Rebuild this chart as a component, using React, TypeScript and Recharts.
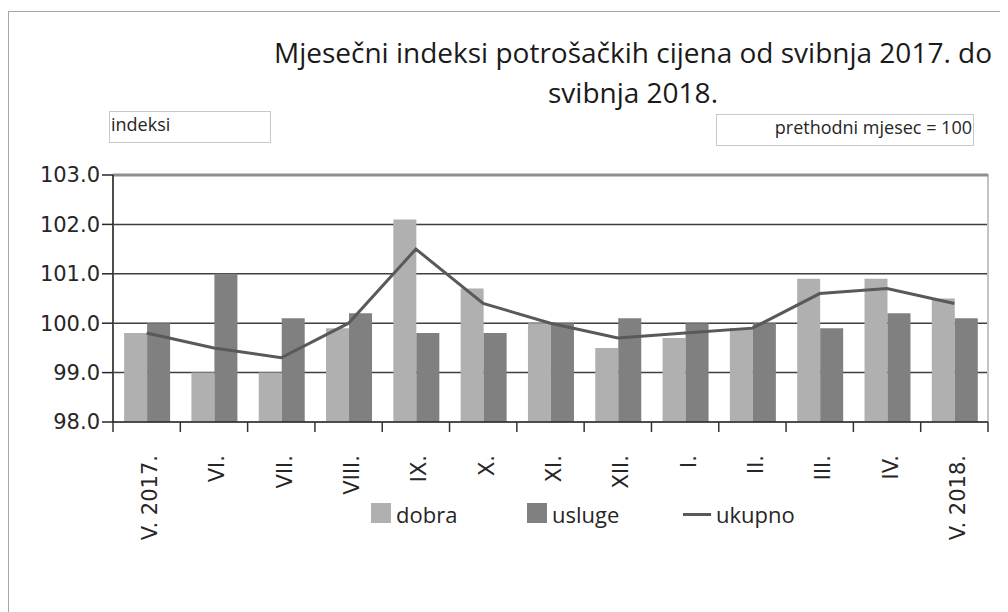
import React from 'react';
import { ComposedChart, Bar, Line, XAxis, YAxis, CartesianGrid, ReferenceLine, ReferenceArea } from 'recharts';

const MONTHS = ['V. 2017.', 'VI.', 'VII.', 'VIII.', 'IX.', 'X.', 'XI.', 'XII.', 'I.', 'II.', 'III.', 'IV.', 'V. 2018.'];
const DOBRA = [99.8, 99.0, 99.0, 99.9, 102.1, 100.7, 100.0, 99.5, 99.7, 99.9, 100.9, 100.9, 100.5];
const USLUGE = [100.0, 101.0, 100.1, 100.2, 99.8, 99.8, 100.0, 100.1, 100.0, 100.0, 99.9, 100.2, 100.1];
const UKUPNO = [99.8, 99.5, 99.3, 100.0, 101.5, 100.4, 100.0, 99.7, 99.8, 99.9, 100.6, 100.7, 100.4];
const Y_TICKS = [98, 99, 100, 101, 102, 103];

const TITLE_1 = 'Mjesečni indeksi potrošačkih cijena od svibnja 2017. do';
const TITLE_2 = 'svibnja 2018.';

const C_DOBRA = '#b0b0b0';
const C_USLUGE = '#808080';
const C_UKUPNO = '#595959';

// chart geometry (inside the 1000x604 wrapper that sits at page 8,8)
const W = 1000;
const H = 604;
const PLOT_LEFT = 105;
const PLOT_RIGHT = 980;
const PLOT_TOP = 167;
const PLOT_BOTTOM = 414;
const BAND = (PLOT_RIGHT - PLOT_LEFT) / MONTHS.length;

const data = MONTHS.map((m, i) => ({ month: m, dobra: DOBRA[i], usluge: USLUGE[i], ukupno: UKUPNO[i] }));

const sans = '"Open Sans", "Noto Sans", sans-serif';
const verdana = '"DejaVu Sans", Verdana, sans-serif';

const MonthTick = (props: any) => {
  const { x, payload, index } = props;
  const half = BAND / 2;
  const lx = x + 10.5;
  const ly = PLOT_BOTTOM + 33;
  return (
    <g>
      <line x1={x - half} x2={x - half} y1={PLOT_BOTTOM} y2={PLOT_BOTTOM + 10} stroke="#333" strokeWidth={1.5} />
      {index === MONTHS.length - 1 && (
        <line x1={x + half} x2={x + half} y1={PLOT_BOTTOM} y2={PLOT_BOTTOM + 10} stroke="#333" strokeWidth={1.5} />
      )}
      <text
        x={lx}
        y={ly}
        transform={`rotate(-90, ${lx}, ${ly})`}
        textAnchor="end"
        fontFamily={verdana}
        fontSize={21}
        fill="#262626"
      >
        {payload.value}
      </text>
    </g>
  );
};

const LegendItem = ({ left, textLeft, label, line, color }: { left: number; textLeft: number; label: string; line?: boolean; color: string }) => (
  <>
    {line ? (
      <div style={{ position: 'absolute', left, top: 504.5, width: 28, height: 3, background: color }} />
    ) : (
      <div style={{ position: 'absolute', left, top: 495, width: 20, height: 20, background: color }} />
    )}
    <div style={{ position: 'absolute', left: textLeft, top: 491, fontFamily: sans, fontSize: 22, color: '#262626', whiteSpace: 'nowrap' }}>
      {label}
    </div>
  </>
);

export default function App() {
  return (
    <div style={{ position: 'relative', width: W, height: H, background: '#fff' }}>
      <div
        style={{
          position: 'absolute',
          left: 0,
          top: 3,
          width: W,
          height: H,
          borderLeft: '1.5px solid #a6a6a6',
          borderTop: '1.5px solid #a6a6a6',
        }}
      />
      <div
        style={{
          position: 'absolute',
          left: 625,
          top: 24,
          transform: 'translateX(-50%)',
          textAlign: 'center',
          fontFamily: sans,
          fontSize: 28,
          lineHeight: '40px',
          color: '#1a1a1a',
          whiteSpace: 'nowrap',
        }}
      >
        {TITLE_1}
        <br />
        {TITLE_2}
      </div>
      <div
        style={{
          position: 'absolute',
          left: 101,
          top: 103,
          width: 162,
          height: 32,
          boxSizing: 'border-box',
          border: '1px solid #c8c8c8',
          paddingLeft: 1,
          fontFamily: sans,
          fontSize: 18,
          color: '#262626',
        }}
      >
        indeksi
      </div>
      <div
        style={{
          position: 'absolute',
          left: 708,
          top: 106,
          width: 258,
          height: 32,
          boxSizing: 'border-box',
          border: '1px solid #c8c8c8',
          paddingRight: 1,
          textAlign: 'right',
          fontFamily: sans,
          fontSize: 18,
          color: '#262626',
        }}
      >
        prethodni mjesec = 100
      </div>

      <div style={{ position: 'absolute', left: 0, top: 0 }}>
        <ComposedChart
          width={W}
          height={H}
          data={data}
          margin={{ top: PLOT_TOP, right: W - PLOT_RIGHT, left: 0, bottom: 90 }}
          barCategoryGap="16.5%"
          barGap={0}
        >
          <ReferenceArea y1={98} y2={103} fill="none" stroke="#c4c4c4" strokeWidth={2} ifOverflow="visible" />
          <CartesianGrid vertical={false} stroke="#3f3f3f" strokeWidth={1.5} />
          <ReferenceLine y={103} stroke="#8f8f8f" strokeWidth={3} />
          <XAxis
            dataKey="month"
            interval={0}
            height={H - 90 - PLOT_BOTTOM}
            tickLine={false}
            axisLine={{ stroke: '#262626', strokeWidth: 1.5 }}
            tick={<MonthTick />}
          />
          <YAxis
            width={PLOT_LEFT}
            domain={[98, 103]}
            ticks={Y_TICKS}
            allowDataOverflow
            tickFormatter={(v: number) => v.toFixed(1)}
            tickSize={11}
            tickMargin={2}
            tickLine={{ stroke: '#262626', strokeWidth: 1.5 }}
            axisLine={{ stroke: '#262626', strokeWidth: 1.5 }}
            tick={{ fontFamily: verdana, fontSize: 21, fill: '#262626' }}
          />
          <Bar dataKey="dobra" fill={C_DOBRA} isAnimationActive={false} />
          <Bar dataKey="usluge" fill={C_USLUGE} isAnimationActive={false} />
          <Line type="linear" dataKey="ukupno" stroke={C_UKUPNO} strokeWidth={3} dot={false} activeDot={false} isAnimationActive={false} />
        </ComposedChart>
      </div>

      <LegendItem left={363} textLeft={388} label="dobra" color={C_DOBRA} />
      <LegendItem left={519} textLeft={544} label="usluge" color={C_USLUGE} />
      <LegendItem left={675} textLeft={708} label="ukupno" color={C_UKUPNO} line />
    </div>
  );
}
